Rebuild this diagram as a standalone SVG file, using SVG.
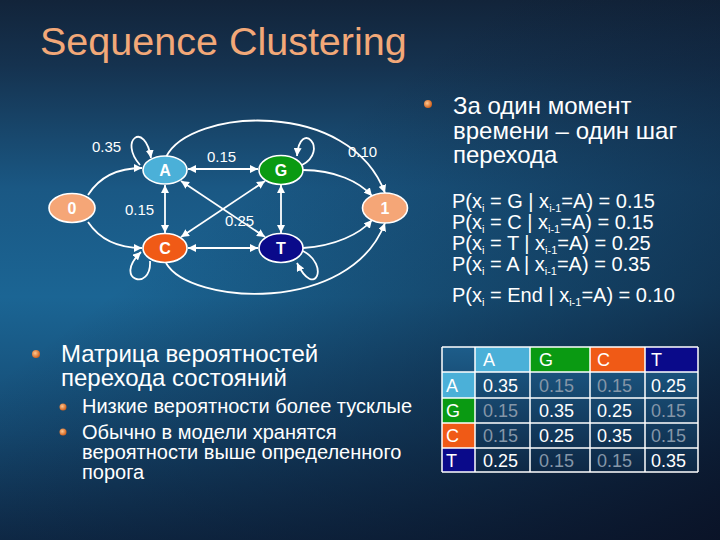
<svg xmlns="http://www.w3.org/2000/svg" width="720" height="540" viewBox="0 0 720 540">
<defs>
<linearGradient id="bg" x1="0" y1="0" x2="0" y2="1">
<stop offset="0" stop-color="#12243a"/>
<stop offset="0.12" stop-color="#15324f"/>
<stop offset="0.35" stop-color="#1a5884"/>
<stop offset="0.55" stop-color="#1b6594"/>
<stop offset="0.8" stop-color="#154a72"/>
<stop offset="1" stop-color="#0f2d4c"/>
</linearGradient>
<linearGradient id="shade" x1="0.35" y1="0.35" x2="1" y2="1">
<stop offset="0" stop-color="#0a1428" stop-opacity="0"/>
<stop offset="0.6" stop-color="#0a1428" stop-opacity="0.55"/>
<stop offset="1" stop-color="#0a1226" stop-opacity="0.95"/>
</linearGradient>
<linearGradient id="cell" x1="0" y1="0" x2="0" y2="1">
<stop offset="0" stop-color="#1d5d8a"/>
<stop offset="1" stop-color="#0d2744"/>
</linearGradient>
<radialGradient id="bul" cx="0.4" cy="0.4" r="0.6">
<stop offset="0" stop-color="#ffc890"/>
<stop offset="1" stop-color="#d0601c"/>
</radialGradient>
<marker id="ah" viewBox="0 0 10 10" refX="10" refY="5" markerWidth="8" markerHeight="8" markerUnits="userSpaceOnUse" orient="auto-start-reverse">
<path d="M0,0 L10,5 L0,10 z" fill="#ffffff"/>
</marker>
<style>
.t{font-family:"Liberation Sans",Arial,sans-serif;fill:#ffffff}
.e{fill:none;stroke:#ffffff;stroke-width:1.8}
.n{stroke:#ffffff;stroke-width:1.6}
.nl{font-family:"Liberation Sans",Arial,sans-serif;font-weight:bold;font-size:16px;fill:#ffffff;text-anchor:middle}
.el{font-family:"Liberation Sans",Arial,sans-serif;font-size:15px;fill:#ffffff}
.tv{font-family:"Liberation Sans",Arial,sans-serif;font-size:18px;fill:#ffffff}
.lo{fill:#8496a8}
.gl{stroke:#ffffff;stroke-width:1.5}
</style>
</defs>
<rect width="720" height="540" fill="url(#bg)"/>
<rect width="720" height="540" fill="url(#shade)"/>

<text x="40" y="55" class="t" font-size="39.5" style="fill:#f2a878">Sequence Clustering</text>

<g id="connectors">
<path class="e" d="M88,195 C100,176 120,168 142,168" marker-end="url(#ah)"/>
<path class="e" d="M88,222 C100,240 120,248 142,248" marker-end="url(#ah)"/>
<path class="e" d="M140,165 C118,140 145,120 151,158" marker-end="url(#ah)"/>
<path class="e" d="M302,165 C330,150 300,118 297,156" marker-end="url(#ah)"/>
<path class="e" d="M303,251 C330,265 315,300 297,263" marker-end="url(#ah)"/>
<path class="e" d="M150,261 C152,292 112,280 141,252" marker-end="url(#ah)"/>
<path class="e" d="M166,157 C190,108 350,98 385,193" marker-end="url(#ah)"/>
<path class="e" d="M166,263 C190,305 350,315 385,223" marker-end="url(#ah)"/>
<path class="e" d="M303,170 C335,170 360,182 372,196" marker-end="url(#ah)"/>
<path class="e" d="M303,248 C335,246 360,234 372,220" marker-end="url(#ah)"/>
<path class="e" d="M188,169 L258,169" marker-start="url(#ah)" marker-end="url(#ah)"/>
<path class="e" d="M188,248 L258,248" marker-start="url(#ah)" marker-end="url(#ah)"/>
<path class="e" d="M165,185 L165,233" marker-start="url(#ah)" marker-end="url(#ah)"/>
<path class="e" d="M281,185 L281,233" marker-start="url(#ah)" marker-end="url(#ah)"/>
<path class="e" d="M181,181 L265,237" marker-start="url(#ah)" marker-end="url(#ah)"/>
<path class="e" d="M265,181 L181,237" marker-start="url(#ah)" marker-end="url(#ah)"/>
</g>

<g id="edge-labels">
<text x="92" y="152" class="el">0.35</text>
<text x="207" y="162" class="el">0.15</text>
<text x="348" y="157" class="el">0.10</text>
<text x="125" y="215" class="el">0.15</text>
<text x="225" y="226" class="el">0.25</text>
</g>

<g id="node-0"><ellipse cx="72" cy="208" rx="23" ry="14.5" class="n" fill="#f5a677"/><text x="72" y="214" class="nl">0</text></g>
<g id="node-A"><ellipse cx="165" cy="170" rx="22" ry="14" class="n" fill="#4bb0d8"/><text x="165" y="176" class="nl">A</text></g>
<g id="node-G"><ellipse cx="281" cy="170" rx="22" ry="14.5" class="n" fill="#0a9a12"/><text x="281" y="176" class="nl">G</text></g>
<g id="node-1"><ellipse cx="385" cy="208" rx="22.5" ry="15" class="n" fill="#f5a677"/><text x="385" y="214" class="nl">1</text></g>
<g id="node-C"><ellipse cx="165" cy="248" rx="22" ry="14.5" class="n" fill="#f05a16"/><text x="165" y="254" class="nl">C</text></g>
<g id="node-T"><ellipse cx="281" cy="248" rx="22" ry="14.5" class="n" fill="#0a0a8a"/><text x="281" y="254" class="nl">T</text></g>

<g id="right-text">
<circle cx="428" cy="104" r="4" fill="url(#bul)"/>
<text class="t" font-size="24"><tspan x="453" y="114">За один момент</tspan><tspan x="453" y="139">времени – один шаг</tspan><tspan x="453" y="163">перехода</tspan></text>
<g class="t" font-size="20">
<text x="452" y="208">P(x<tspan font-size="11" dy="4">i</tspan><tspan dy="-4"> = G | x</tspan><tspan font-size="11" dy="4">i-1</tspan><tspan dy="-4">=A) = 0.15</tspan></text>
<text x="452" y="229">P(x<tspan font-size="11" dy="4">i</tspan><tspan dy="-4"> = C | x</tspan><tspan font-size="11" dy="4">i-1</tspan><tspan dy="-4">=A) = 0.15</tspan></text>
<text x="452" y="250">P(x<tspan font-size="11" dy="4">i</tspan><tspan dy="-4"> = T | x</tspan><tspan font-size="11" dy="4">i-1</tspan><tspan dy="-4">=A) = 0.25</tspan></text>
<text x="452" y="271">P(x<tspan font-size="11" dy="4">i</tspan><tspan dy="-4"> = A | x</tspan><tspan font-size="11" dy="4">i-1</tspan><tspan dy="-4">=A) = 0.35</tspan></text>
<text x="452" y="302">P(x<tspan font-size="11" dy="4">i</tspan><tspan dy="-4"> = End | x</tspan><tspan font-size="11" dy="4">i-1</tspan><tspan dy="-4">=A) = 0.10</tspan></text>
</g>
</g>

<g id="left-text">
<circle cx="36" cy="354" r="4" fill="url(#bul)"/>
<text class="t" font-size="24"><tspan x="61" y="362">Матрица вероятностей</tspan><tspan x="61" y="386">перехода состояний</tspan></text>
<circle cx="63" cy="407" r="3.5" fill="url(#bul)"/>
<circle cx="63" cy="432" r="3.5" fill="url(#bul)"/>
<text class="t" font-size="20"><tspan x="82" y="413">Низкие вероятности более тусклые</tspan><tspan x="82" y="439">Обычно в модели хранятся</tspan><tspan x="82" y="459">вероятности выше определенного</tspan><tspan x="82" y="479">порога</tspan></text>
</g>

<g id="table">
<rect x="442" y="347" width="256" height="125" fill="url(#cell)"/>
<rect x="475" y="347" width="55" height="25" fill="#4bb0d8"/>
<rect x="530" y="347" width="60" height="25" fill="#0a9a12"/>
<rect x="590" y="347" width="55" height="25" fill="#f05a16"/>
<rect x="645" y="347" width="53" height="25" fill="#0a0a8a"/>
<rect x="442" y="372" width="33" height="26" fill="#4bb0d8"/>
<rect x="442" y="398" width="33" height="25" fill="#0a9a12"/>
<rect x="442" y="423" width="33" height="25" fill="#f05a16"/>
<rect x="442" y="448" width="33" height="24" fill="#0a0a8a"/>
<g class="gl">
<line x1="442" y1="347" x2="698" y2="347"/>
<line x1="442" y1="372" x2="698" y2="372"/>
<line x1="442" y1="398" x2="698" y2="398"/>
<line x1="442" y1="423" x2="698" y2="423"/>
<line x1="442" y1="448" x2="698" y2="448"/>
<line x1="442" y1="472" x2="698" y2="472"/>
<line x1="442" y1="347" x2="442" y2="472"/>
<line x1="475" y1="347" x2="475" y2="472"/>
<line x1="530" y1="347" x2="530" y2="472"/>
<line x1="590" y1="347" x2="590" y2="472"/>
<line x1="645" y1="347" x2="645" y2="472"/>
<line x1="698" y1="347" x2="698" y2="472"/>
</g>
<g class="tv">
<text x="483" y="366">A</text><text x="539" y="366">G</text><text x="597" y="366">C</text><text x="651" y="366">T</text>
<text x="446" y="392">A</text><text x="446" y="417">G</text><text x="446" y="442">C</text><text x="446" y="467">T</text>
<text x="483" y="392">0.35</text><text x="539" y="392" class="lo">0.15</text><text x="597" y="392" class="lo">0.15</text><text x="651" y="392">0.25</text>
<text x="483" y="417" class="lo">0.15</text><text x="539" y="417">0.35</text><text x="597" y="417">0.25</text><text x="651" y="417" class="lo">0.15</text>
<text x="483" y="442" class="lo">0.15</text><text x="539" y="442">0.25</text><text x="597" y="442">0.35</text><text x="651" y="442" class="lo">0.15</text>
<text x="483" y="467">0.25</text><text x="539" y="467" class="lo">0.15</text><text x="597" y="467" class="lo">0.15</text><text x="651" y="467">0.35</text>
</g>
</g>
</svg>
